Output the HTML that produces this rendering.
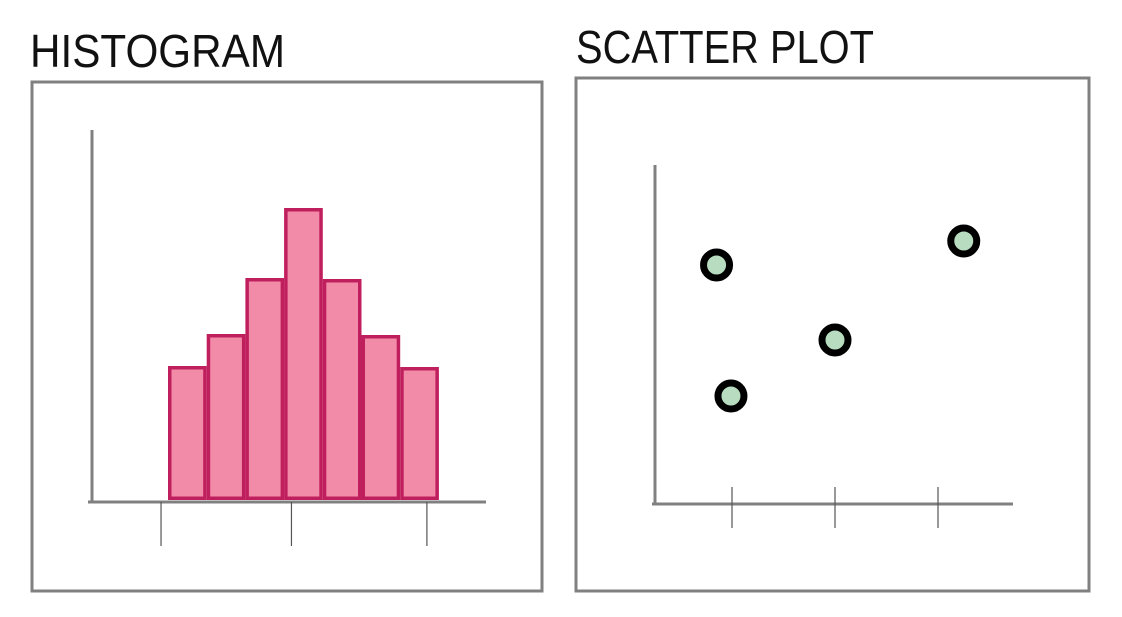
<!DOCTYPE html>
<html><head><meta charset="utf-8"><style>
html,body{margin:0;padding:0;background:#fff;width:1122px;height:617px;overflow:hidden}
svg text{font-family:"Liberation Sans",sans-serif}
</style></head><body>
<svg id="c" width="1122" height="617" xmlns="http://www.w3.org/2000/svg">
<text x="30" y="67" font-size="46" fill="#111" textLength="255" lengthAdjust="spacingAndGlyphs">HISTOGRAM</text>
<text x="576" y="63" font-size="46" fill="#111" textLength="298" lengthAdjust="spacingAndGlyphs">SCATTER PLOT</text>
<rect x="32" y="82" width="510" height="509" fill="none" stroke="#808080" stroke-width="3"/>
<rect x="576" y="78" width="513" height="513" fill="none" stroke="#808080" stroke-width="3"/>
<g id="hist"></g>
<g id="scat"></g>
</svg>
<script>
const histBins = [0,1,2,3,4,5,6];
const histCounts = [134,166,222,292,221,165,133];
const histTicks = [-0.18,3.19,6.69];
const scatterX = [0.85,0.99,2.0,3.25];
const scatterY = [2.39,1.08,1.64,2.63];
const scatterTicks = [1,2,3];

const NS="http://www.w3.org/2000/svg";
function mk(tag,attrs,parent){const e=document.createElementNS(NS,tag);for(const k in attrs)e.setAttribute(k,attrs[k]);parent.appendChild(e);return e;}

const hg=document.getElementById('hist');
const hx=i=>168+i*38.7, hBase=500, hy=v=>hBase-v;
let a=mk('line',{x1:92,y1:130,x2:92,y2:503,stroke:'#808080','stroke-width':3},hg);


a=mk('line',{x1:88,y1:502,x2:486,y2:502,stroke:'#808080','stroke-width':3},hg);


histTicks.forEach(t=>{const l=mk('line',{x1:hx(t),y1:502,x2:hx(t),y2:546,stroke:'#555','stroke-width':1.2},hg);

});
histBins.forEach((b,i)=>{const r=mk('rect',{x:hx(b)+1.75,y:hy(histCounts[i])+1.75,width:38.7-3.5,height:histCounts[i]-3.5,fill:'#f28ba8',stroke:'#c01f5e','stroke-width':3.5},hg);

});

const sg=document.getElementById('scat');
const sx=v=>732+(v-1)*103, sy=v=>504-v*100;
a=mk('line',{x1:655,y1:165,x2:655,y2:505,stroke:'#808080','stroke-width':3},sg);


a=mk('line',{x1:652,y1:504,x2:1013,y2:504,stroke:'#808080','stroke-width':3},sg);


scatterTicks.forEach(t=>{const l=mk('line',{x1:sx(t),y1:487,x2:sx(t),y2:528,stroke:'#555','stroke-width':1.2},sg);

});
scatterX.forEach((v,i)=>{const c=mk('circle',{cx:sx(v),cy:sy(scatterY[i]),r:13,fill:'#b7dcbf',stroke:'#000','stroke-width':7},sg);

});
</script>
</body></html>
